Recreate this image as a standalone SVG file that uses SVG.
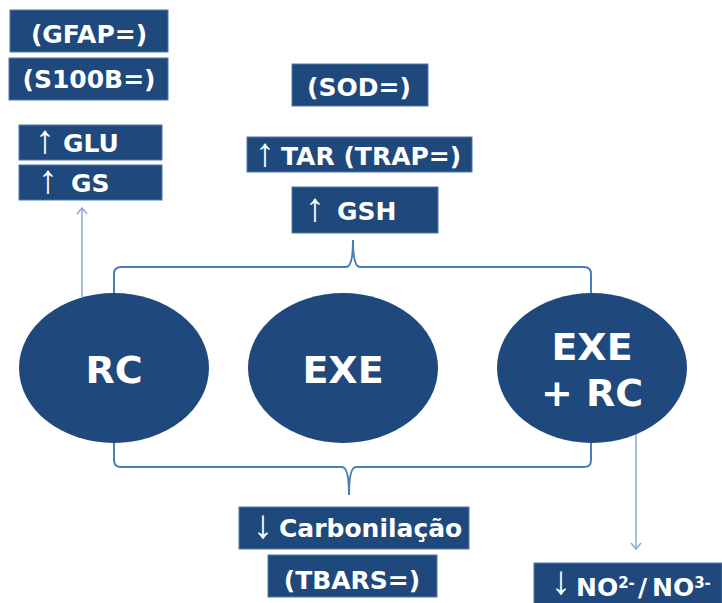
<svg xmlns="http://www.w3.org/2000/svg" width="722" height="603" viewBox="0 0 722 603">
  <style>
    .box { fill: #1F497D; stroke: #4F78A8; stroke-width: 1; }
    .node { fill: #1F497D; }
    .lbl { fill: #FFFFFF; font-family: "DejaVu Sans", Verdana, sans-serif; font-weight: bold; font-size: 25px; }
    .mid { text-anchor: middle; }
    .sup { font-size: 15px; }
    .big { fill: #FFFFFF; font-family: "DejaVu Sans", Verdana, sans-serif; font-weight: bold; font-size: 38px; text-anchor: middle; }
    .arw { fill: #FFFFFF; font-family: "Liberation Sans", Arial, sans-serif; font-size: 40px; text-anchor: middle; }
    .brace { fill: none; stroke: #4A7EBB; stroke-width: 2; }
    .link { fill: none; stroke: #86A9D6; stroke-width: 1.5; }
  </style>
  <defs>
    <marker id="open" viewBox="0 0 12 12" refX="11" refY="6" markerWidth="12" markerHeight="12" markerUnits="userSpaceOnUse" orient="auto">
      <path d="M5 1 L11 6 L5 11" fill="none" stroke="#86A9D6" stroke-width="1.5"/>
    </marker>
  </defs>

  <!-- connectors -->
  <g id="connectors">
    <path class="brace" d="M114 294 V274 Q114 267 121 267 H346 Q353 267 353 240 Q353 267 360 267 H584 Q591 267 591 274 V294"/>
    <path class="brace" d="M114 442 V460 Q114 467 121 467 H342 Q349 467 349 495 Q349 467 356 467 H584 Q591 467 591 460 V442"/>
    <line class="link" x1="82" y1="297" x2="82" y2="208" marker-end="url(#open)"/>
    <line class="link" x1="636" y1="434" x2="636" y2="549" marker-end="url(#open)"/>
  </g>

  <!-- groups -->
  <g id="rc">
    <ellipse class="node" cx="114" cy="368" rx="95" ry="75"/>
    <text class="big" x="114" y="383">RC</text>
  </g>
  <g id="exe">
    <ellipse class="node" cx="343" cy="368" rx="95" ry="75"/>
    <text class="big" x="343" y="383">EXE</text>
  </g>
  <g id="exe-rc">
    <ellipse class="node" cx="592" cy="368" rx="95" ry="75"/>
    <text class="big" x="592" y="360">EXE</text>
    <text class="big" x="592" y="406">+ RC</text>
  </g>

  <!-- markers -->
  <g id="gfap">
    <rect class="box" x="10" y="10" width="158" height="42"/>
    <text class="lbl mid" x="89" y="43">(GFAP=)</text>
  </g>
  <g id="s100b">
    <rect class="box" x="9" y="58" width="159" height="42"/>
    <text class="lbl mid" x="89" y="88">(S100B=)</text>
  </g>
  <g id="glu">
    <rect class="box" x="19" y="125" width="143" height="35"/>
    <text class="arw" x="45" y="153">↑</text>
    <text class="lbl" x="63" y="152">GLU</text>
  </g>
  <g id="gs">
    <rect class="box" x="19" y="165" width="143" height="35"/>
    <text class="arw" x="48" y="193">↑</text>
    <text class="lbl" x="71" y="192">GS</text>
  </g>
  <g id="sod">
    <rect class="box" x="292" y="64" width="136" height="42"/>
    <text class="lbl mid" x="359" y="96">(SOD=)</text>
  </g>
  <g id="tar">
    <rect class="box" x="247" y="137" width="225" height="35"/>
    <text class="arw" x="265" y="166">↑</text>
    <text class="lbl" x="281" y="165">TAR (TRAP=)</text>
  </g>
  <g id="gsh">
    <rect class="box" x="292" y="187" width="146" height="46"/>
    <text class="arw" x="315" y="221">↑</text>
    <text class="lbl" x="337" y="220">GSH</text>
  </g>
  <g id="carbonilacao">
    <rect class="box" x="239" y="507" width="230" height="42"/>
    <text class="arw" x="263" y="538">↓</text>
    <text class="lbl" x="279" y="537">Carbonilação</text>
  </g>
  <g id="tbars">
    <rect class="box" x="268" y="555" width="169" height="42"/>
    <text class="lbl mid" x="352" y="589">(TBARS=)</text>
  </g>
  <g id="no">
    <rect class="box" x="534" y="563" width="188" height="42"/>
    <text class="arw" x="561" y="594" font-size="37">↓</text>
    <text class="lbl" x="576" y="596">NO<tspan class="sup" dy="-8">2-</tspan></text>
    <text class="lbl" x="638" y="596">/</text>
    <text class="lbl" x="652" y="596">NO<tspan class="sup" dy="-8">3-</tspan></text>
  </g>
</svg>
